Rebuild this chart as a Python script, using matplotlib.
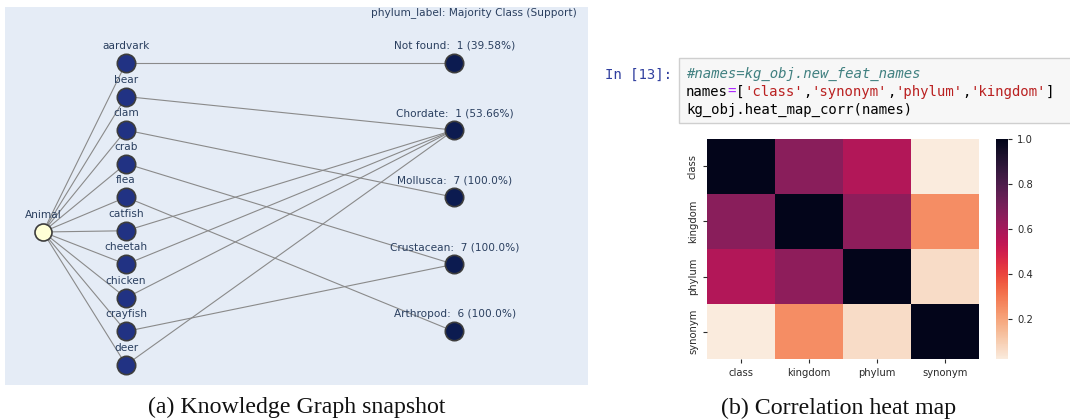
import matplotlib
matplotlib.use("Agg")
import matplotlib.pyplot as plt
import numpy as np
import pandas as pd
import seaborn as sns
from matplotlib.patches import Rectangle

# ---------------- data ----------------
root_name = "Animal"
animals = ['aardvark', 'bear', 'clam', 'crab', 'flea',
           'catfish', 'cheetah', 'chicken', 'crayfish', 'deer']
phyla = ['Not found', 'Chordate', 'Mollusca', 'Crustacean', 'Arthropod']
phylum_count = [1, 1, 7, 7, 6]
phylum_support = ['39.58', '53.66', '100.0', '100.0', '100.0']
animal_phylum = ['Not found', 'Chordate', 'Mollusca', 'Crustacean', 'Arthropod',
                 'Chordate', 'Chordate', 'Chordate', 'Crustacean', 'Chordate']
graph_title = "phylum_label: Majority Class (Support)"

feat_names = ['class', 'kingdom', 'phylum', 'synonym']
corr_values = [[1.00, 0.66, 0.57, 0.02],
               [0.66, 1.00, 0.65, 0.25],
               [0.57, 0.65, 1.00, 0.06],
               [0.02, 0.25, 0.06, 1.00]]

prompt_text = "In [13]:"
code_comment = "#names=kg_obj.new_feat_names"
code_line2 = [("names", "k"), ("=", "p"), ("[", "k"), ("'class'", "s"), (",", "k"),
              ("'synonym'", "s"), (",", "k"), ("'phylum'", "s"), (",", "k"),
              ("'kingdom'", "s"), ("]", "k")]
code_line3 = "kg_obj.heat_map_corr(names)"

caption_a = "(a) Knowledge Graph snapshot"
caption_b = "(b) Correlation heat map"

# ---------------- figure ----------------
W, H = 1070, 419
fig = plt.figure(figsize=(W / 100, H / 100), dpi=100)
fig.patch.set_facecolor('white')


def fx(px):
    return px / W


def fy(py):
    return 1 - py / H


# ---------- left panel: knowledge graph ----------
bg_l, bg_t, bg_r, bg_b = 5, 7, 588, 385
ax = fig.add_axes([fx(bg_l), fy(bg_b), (bg_r - bg_l) / W, (bg_b - bg_t) / H])
ax.set_facecolor('#E5ECF6')
ax.set_xlim(0, bg_r - bg_l)
ax.set_ylim(bg_b - bg_t, 0)
for s in ax.spines.values():
    s.set_visible(False)
ax.set_xticks([])
ax.set_yticks([])

root_x, root_y = 38, 225
left_x, right_x = 121, 449
top_y, step = 56, 33.55
n = len(animals)
left_ys = top_y + step * np.arange(n)
right_ys = top_y + step * 2 * np.arange(len(phyla))
phylum_y = dict(zip(phyla, right_ys))

edge_col = '#8a8a8a'
for y in left_ys:
    ax.plot([root_x, left_x], [root_y, y], color=edge_col, lw=0.8, zorder=1)
for y, ph in zip(left_ys, animal_phylum):
    ax.plot([left_x, right_x], [y, phylum_y[ph]], color=edge_col, lw=0.8, zorder=1)

ax.scatter([left_x] * n, left_ys, s=175, color='#213283', edgecolors='#3d3d3d',
           linewidths=1.2, zorder=3)
ax.scatter([right_x] * len(phyla), right_ys, s=175, color='#0c1b50',
           edgecolors='#3d3d3d', linewidths=1.2, zorder=3)
ax.scatter([root_x], [root_y], s=150, color='#FFFFD6', edgecolors='#3d3d3d',
           linewidths=1.2, zorder=3)

lab_col = '#2a3f5f'
lab_fs = 7.6
ax.text(root_x, root_y - 17, root_name, ha='center', va='center', fontsize=lab_fs,
        color=lab_col, zorder=4)
for y, name in zip(left_ys, animals):
    ax.text(left_x, y - 17, name, ha='center', va='center', fontsize=lab_fs,
            color=lab_col, zorder=4)
for y, name, c, p in zip(right_ys, phyla, phylum_count, phylum_support):
    ax.text(right_x + 1, y - 17, f"{name}:  {c} ({p}%)", ha='center', va='center',
            fontsize=lab_fs, color=lab_col, zorder=4)
ax.text(bg_r - bg_l - 11, 6, graph_title, ha='right', va='center', fontsize=lab_fs,
        color=lab_col)

# ---------- right panel: code cell ----------
mono = 'DejaVu Sans Mono'
code_fs = 10.1
fig.text(fx(605), fy(75), prompt_text, family=mono, fontsize=code_fs,
         color='#303F9F', va='center', ha='left')
box = Rectangle((fx(679), fy(123)), fx(1075) - fx(679), fy(58) - fy(123),
                transform=fig.transFigure, facecolor='#F7F7F7', edgecolor='#CFCFCF',
                linewidth=1.0, zorder=0)
fig.patches.append(box)

code_x = 686
fig.text(fx(code_x), fy(74), code_comment, family=mono, fontsize=code_fs,
         style='italic', color='#408080', va='center', ha='left')
colmap = {'k': '#000000', 'p': '#AA22FF', 's': '#BA2121'}
prev = None
for tok, c in code_line2:
    if prev is None:
        prev = fig.text(fx(code_x), fy(92), tok, family=mono, fontsize=code_fs,
                        color=colmap[c], va='center', ha='left')
    else:
        prev = fig.add_artist(matplotlib.text.Annotation(
            tok, xy=(1, 0), xycoords=prev, va='bottom', ha='left',
            family=mono, fontsize=code_fs, color=colmap[c]))
fig.text(fx(code_x), fy(110), code_line3, family=mono, fontsize=code_fs,
         color='#000000', va='center', ha='left')

# ---------- heatmap ----------
hx0, hx1, hy0, hy1 = 707, 979, 139, 359
hax = fig.add_axes([fx(hx0), fy(hy1), (hx1 - hx0) / W, (hy1 - hy0) / H])
cax = fig.add_axes([fx(996), fy(hy1), 12 / W, (hy1 - hy0) / H])
df = pd.DataFrame(corr_values, index=feat_names, columns=feat_names)
sns.heatmap(df, ax=hax, cbar_ax=cax, cmap='rocket_r')
tick_col = '#2b2b2b'
hax.tick_params(axis='both', labelsize=7.2, colors=tick_col, length=3, width=0.8)
for t in hax.get_yticklabels():
    t.set_rotation(90)
    t.set_va('center')
cax.tick_params(labelsize=7.2, colors=tick_col, length=3, width=0.8)
cax.set_yticks([0.2, 0.4, 0.6, 0.8, 1.0])

# ---------- captions ----------
cap_font = 'Liberation Serif'
fig.text(fx(297), fy(407), caption_a, family=cap_font, fontsize=17.2,
         ha='center', va='center', color='#111111')
fig.text(fx(839), fy(408), caption_b, family=cap_font, fontsize=17.2,
         ha='center', va='center', color='#111111')

fig.savefig('out.png', dpi=100)
